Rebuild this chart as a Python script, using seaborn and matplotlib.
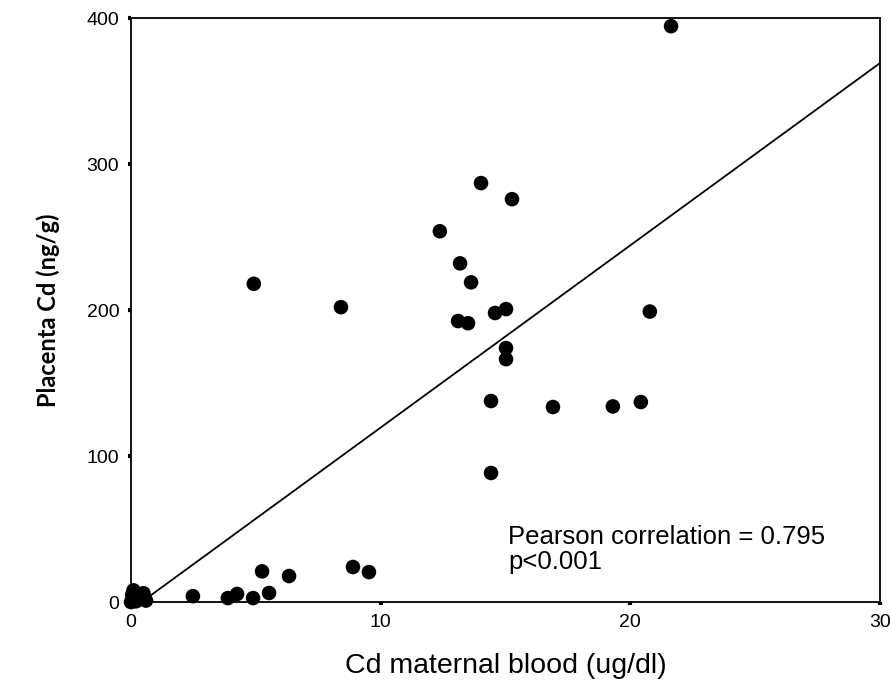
import numpy as np
import pandas as pd
import matplotlib
matplotlib.use('Agg')
import matplotlib.pyplot as plt
import seaborn as sns

# Values
cd_blood = [21.63, 14.02, 15.26, 12.37, 13.18, 13.62, 4.92, 8.41,
            13.10, 13.50, 14.58, 15.02, 20.78, 15.02, 15.02, 14.42,
            16.90, 19.30, 20.42, 14.42, 5.25, 6.33, 8.89, 9.53,
            2.48, 3.88, 4.25, 4.89, 5.53,
            0.00, 0.05, 0.10, 0.30, 0.50, 0.60, 0.20]
cd_placenta = [394.5, 287.0, 276.0, 254.0, 232.0, 219.0, 218.0, 202.0,
               192.5, 191.0, 198.0, 200.7, 199.0, 174.0, 166.4, 137.7,
               133.6, 134.0, 137.0, 88.4, 21.0, 17.8, 24.0, 20.5,
               4.0, 2.7, 5.5, 2.7, 6.2,
               0.0, 5.0, 8.0, 2.0, 6.0, 1.0, 0.5]

df = pd.DataFrame({'blood': cd_blood, 'placenta': cd_placenta})

sns.set_style('white')
plt.rcParams['font.family'] = ['Liberation Sans', 'DejaVu Sans']
plt.rcParams['text.color'] = 'black'
plt.rcParams['axes.labelcolor'] = 'black'
plt.rcParams['xtick.color'] = 'black'
plt.rcParams['ytick.color'] = 'black'

fig = plt.figure(figsize=(8.91, 6.98), dpi=100)
ax = fig.add_axes([0.147, 0.1375, 0.8407, 0.8365])

ax.set_xlim(0, 30)
ax.set_ylim(0, 400)

# fitted line across the whole x range
sns.regplot(data=df, x='blood', y='placenta', scatter=False, ci=None,
            truncate=False, color='black', line_kws={'linewidth': 1.3}, ax=ax)

sns.scatterplot(data=df, x='blood', y='placenta', color='black', s=110,
                edgecolor='none', clip_on=False, zorder=3, ax=ax)

ax.set_xticks([0, 10, 20, 30])
ax.set_yticks([0, 100, 200, 300, 400])
ax.tick_params(bottom=True, left=True, direction='out', length=2.5, width=3,
               labelsize=14, pad=6)
for sp in ax.spines.values():
    sp.set_linewidth(1.3)
    sp.set_color('black')

ax.set_xlabel('Cd maternal blood (ug/dl)', fontsize=20.5, labelpad=16)
ax.set_ylabel('Placenta Cd (ng/g)', fontsize=17, fontweight='bold',
              family=['Lato', 'DejaVu Sans'], labelpad=19)

r = np.corrcoef(df['blood'], df['placenta'])[0, 1]
print('r =', r)
ax.text(15.1, 36, 'Pearson correlation = 0.795\np<0.001', fontsize=18.5,
        va='center', ha='left', linespacing=1.05)

fig.savefig('out.png', dpi=100)
